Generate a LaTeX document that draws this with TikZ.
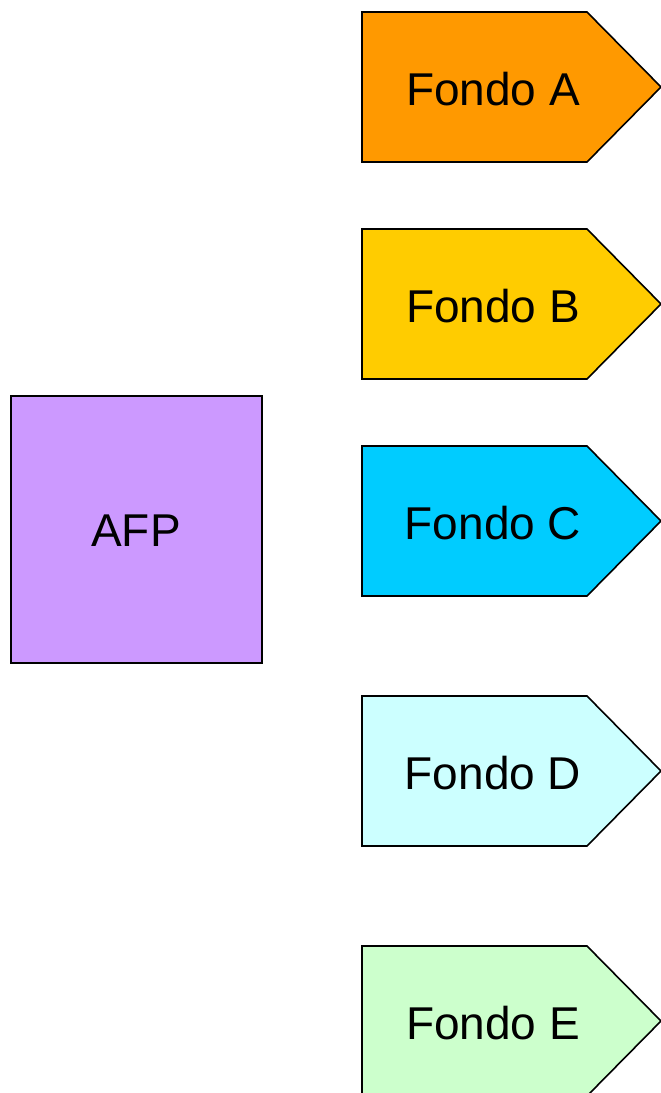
\documentclass[tikz,border=0pt]{standalone}
\usepackage{fontspec}
\setmainfont{Liberation Sans}
\definecolor{cA}{HTML}{FF9900}
\definecolor{cB}{HTML}{FFCC00}
\definecolor{cC}{HTML}{00CCFF}
\definecolor{cD}{HTML}{CCFFFF}
\definecolor{cE}{HTML}{CCFFCC}
\definecolor{cAFP}{HTML}{CC99FF}
\tikzset{
  shapeline/.style={draw=black, line width=1.6pt, line join=miter},
  lbl/.style={inner sep=0pt, font=\fontsize{46}{55}\selectfont, text=black},
}
\begin{document}
\begin{tikzpicture}[x=1pt,y=-1pt]
\useasboundingbox (0,0) rectangle (661,1093);
% AFP box
\draw[shapeline, fill=cAFP] (11,396) rectangle (262,663);
\node[lbl] (afp) at (136,531) {AFP};
% Fondos
\foreach \t/\c/\n in {12/cA/A, 229/cB/B, 446/cC/C, 696/cD/D, 946/cE/E}{
  \draw[shapeline, fill=\c] (362,\t) -- (587,\t) -- (661,\t+75) -- (587,\t+150) -- (362,\t+150) -- cycle;
  \node[lbl] (f\n) at (493,\t+77) {Fondo \n};
}
\end{tikzpicture}
\end{document}
